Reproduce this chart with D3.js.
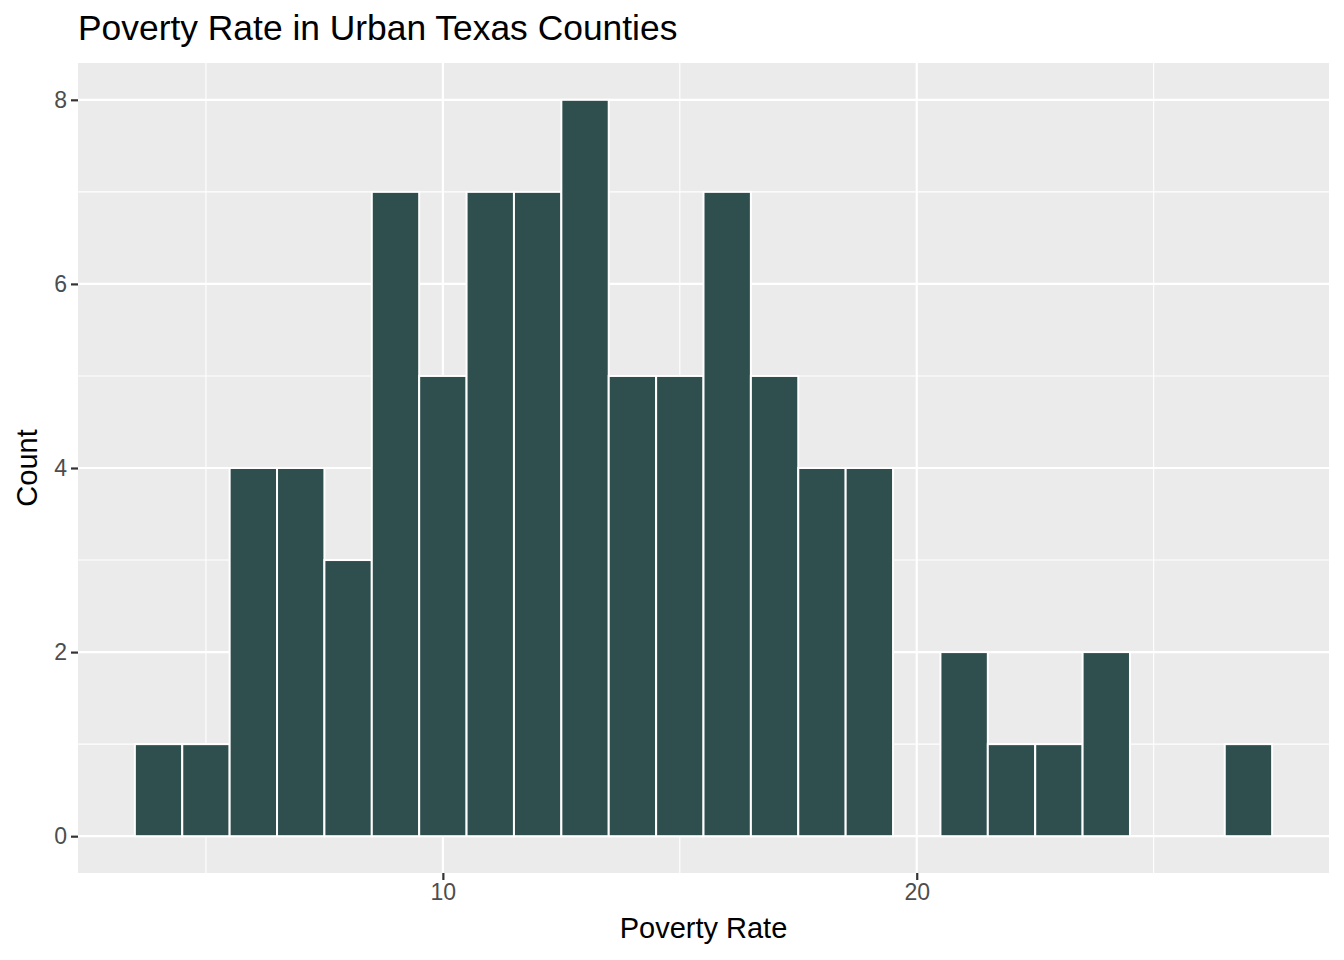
<!DOCTYPE html>
<html>
<head>
<meta charset="utf-8">
<script src="https://cdn.jsdelivr.net/npm/d3@7"></script>
<style>
  body { margin: 0; background: white; }
  text { font-family: "Liberation Sans", Arial, sans-serif; }
</style>
</head>
<body>
<div id="chart"></div>
<script>
// histogram bins (width 1) and counts
var binStart = [3.5, 4.5, 5.5, 6.5, 7.5, 8.5, 9.5, 10.5, 11.5, 12.5, 13.5, 14.5,
                15.5, 16.5, 17.5, 18.5, 19.5, 20.5, 21.5, 22.5, 23.5, 24.5, 25.5, 26.5];
var binEnd = binStart.map(function(d) { return d + 1; });
var counts = [1, 1, 4, 4, 3, 7, 5, 7, 7, 8, 5, 5, 7, 5, 4, 4, 0, 2, 1, 1, 2, 0, 0, 1];

var xMajor = [10, 20];
var xMinor = [5, 15, 25];
var yMajor = [0, 2, 4, 6, 8];
var yMinor = [1, 3, 5, 7];

var width = 1344, height = 960;
var panel = {left: 78, right: 1329, top: 63, bottom: 873};

var svg = d3.select("#chart").append("svg")
    .attr("width", width)
    .attr("height", height);

var x = d3.scaleLinear().domain([2.3, 28.7]).range([panel.left, panel.right]);
var y = d3.scaleLinear().domain([-0.4, 8.4]).range([panel.bottom, panel.top]);

svg.append("rect")
    .attr("x", panel.left).attr("y", panel.top)
    .attr("width", panel.right - panel.left)
    .attr("height", panel.bottom - panel.top)
    .attr("fill", "#EBEBEB");

var grid = svg.append("g");
grid.selectAll(".xminor").data(xMinor).enter().append("line")
    .attr("x1", x).attr("x2", x)
    .attr("y1", panel.top).attr("y2", panel.bottom)
    .attr("stroke", "white").attr("stroke-width", 1.1);
grid.selectAll(".yminor").data(yMinor).enter().append("line")
    .attr("y1", y).attr("y2", y)
    .attr("x1", panel.left).attr("x2", panel.right)
    .attr("stroke", "white").attr("stroke-width", 1.1);
grid.selectAll(".xmajor").data(xMajor).enter().append("line")
    .attr("x1", x).attr("x2", x)
    .attr("y1", panel.top).attr("y2", panel.bottom)
    .attr("stroke", "white").attr("stroke-width", 2.2);
grid.selectAll(".ymajor").data(yMajor).enter().append("line")
    .attr("y1", y).attr("y2", y)
    .attr("x1", panel.left).attr("x2", panel.right)
    .attr("stroke", "white").attr("stroke-width", 2.2);

// bars
svg.append("g").selectAll("rect")
    .data(counts.map(function(c, i) { return {x0: binStart[i], x1: binEnd[i], n: c}; }))
    .enter().filter(function(d) { return d.n > 0; })
    .append("rect")
    .attr("x", function(d) { return x(d.x0); })
    .attr("width", function(d) { return x(d.x1) - x(d.x0); })
    .attr("y", function(d) { return y(d.n); })
    .attr("height", function(d) { return y(0) - y(d.n); })
    .attr("fill", "#2F4F4F")
    .attr("stroke", "white")
    .attr("stroke-width", 2);

// axes
var xAxis = d3.axisBottom(x).tickValues(xMajor).tickSize(7).tickPadding(4);
var gx = svg.append("g")
    .attr("transform", "translate(0," + panel.bottom + ")")
    .call(xAxis);
var yAxis = d3.axisLeft(y).tickValues(yMajor).tickSize(7).tickPadding(4);
var gy = svg.append("g")
    .attr("transform", "translate(" + panel.left + ",0)")
    .call(yAxis);

[gx, gy].forEach(function(g) {
  g.select(".domain").remove();
  g.selectAll(".tick line").attr("stroke", "#333333").attr("stroke-width", 2.2);
  g.selectAll(".tick text")
      .attr("fill", "#4D4D4D")
      .style("font-size", "23px")
      .style("font-family", "Liberation Sans, Arial, sans-serif");
});

svg.append("text")
    .attr("x", (panel.left + panel.right) / 2)
    .attr("y", 938)
    .attr("text-anchor", "middle")
    .style("font-size", "29px")
    .text("Poverty Rate");

svg.append("text")
    .attr("transform", "translate(37," + ((panel.top + panel.bottom) / 2) + ") rotate(-90)")
    .attr("text-anchor", "middle")
    .style("font-size", "29px")
    .text("Count");

svg.append("text")
    .attr("x", panel.left)
    .attr("y", 40)
    .style("font-size", "35.4px")
    .text("Poverty Rate in Urban Texas Counties");
</script>
</body>
</html>
